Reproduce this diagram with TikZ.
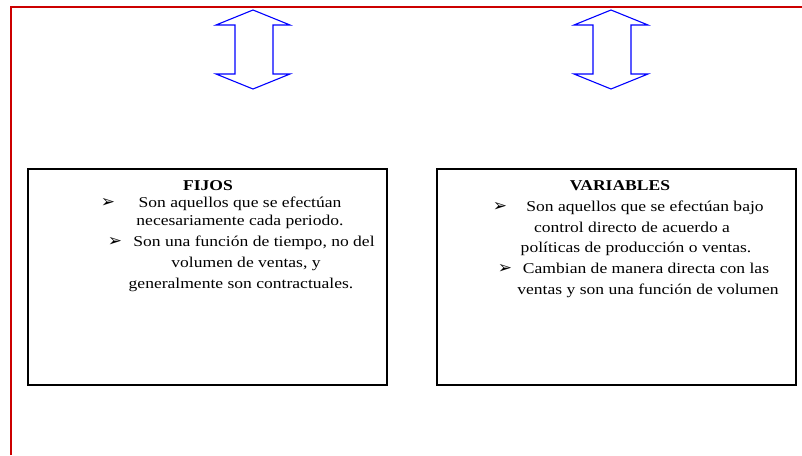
\documentclass[tikz,border=0pt]{standalone}
\usepackage{fontspec}
\setmainfont{Liberation Serif}[FakeStretch=1.17]
\newfontfamily\symfont{DejaVu Sans}
\begin{document}
\begin{tikzpicture}[x=1pt,y=-1pt,
  frame/.style={draw={rgb,255:red,204;green,0;blue,0},line width=2pt},
  dblarrow/.style={draw={rgb,255:red,0;green,0;blue,255},line width=1.1pt,fill=white,line join=miter},
  panel/.style={draw=black,line width=1.4pt,fill=white},
  heading/.style={anchor=base,font=\fontsize{15}{18}\selectfont\bfseries,inner sep=0pt},
  txt/.style={anchor=base,font=\fontsize{15}{18}\selectfont,inner sep=0pt},
  bullet/.style={anchor=base,font=\symfont\fontsize{17}{19}\selectfont,inner sep=0pt}]
\useasboundingbox (0,0) rectangle (802,455);
\fill[white] (0,0) rectangle (802,455);

% red page border (left and top)
\draw[frame] (11,455) -- (11,7) -- (802,7);

% vertical double arrows
\draw[dblarrow] (253,10) -- (290,25) -- (273,25) -- (273,74) -- (290,74) -- (253,89)
  -- (216,74) -- (235,74) -- (235,25) -- (216,25) -- cycle;
\draw[dblarrow] (611,10) -- (648,25) -- (631,25) -- (631,74) -- (648,74) -- (611,89)
  -- (574,74) -- (593,74) -- (593,25) -- (574,25) -- cycle;

% panels
\draw[panel] (28,169) rectangle (387,385);
\draw[panel] (437,169) rectangle (796,385);

% FIJOS
\node[heading] (fh) at (208,190) {FIJOS};
\node[bullet] (fb1) at (108,207) {➢};
\node[txt] (f1) at (240,207) {Son aquellos que se efectúan};
\node[txt] (f2) at (240,225) {necesariamente cada periodo.};
\node[bullet] (fb2) at (115,246) {➢};
\node[txt] (f3) at (254,246) {Son una función de tiempo, no del};
\node[txt] (f4) at (246,267) {volumen de ventas, y};
\node[txt] (f5) at (241,288) {generalmente son contractuales.};

% VARIABLES
\node[heading] (vh) at (620,190) {VARIABLES};
\node[bullet] (vb1) at (500,211) {➢};
\node[txt] (v1) at (645,211) {Son aquellos que se efectúan bajo};
\node[txt] (v2) at (632,232) {control directo de acuerdo a};
\node[txt] (v3) at (636,252) {políticas de producción o ventas.};
\node[bullet] (vb2) at (505,273) {➢};
\node[txt] (v4) at (646,273) {Cambian de manera directa con las};
\node[txt] (v5) at (648,294) {ventas y son una función de volumen};
\end{tikzpicture}
\end{document}
